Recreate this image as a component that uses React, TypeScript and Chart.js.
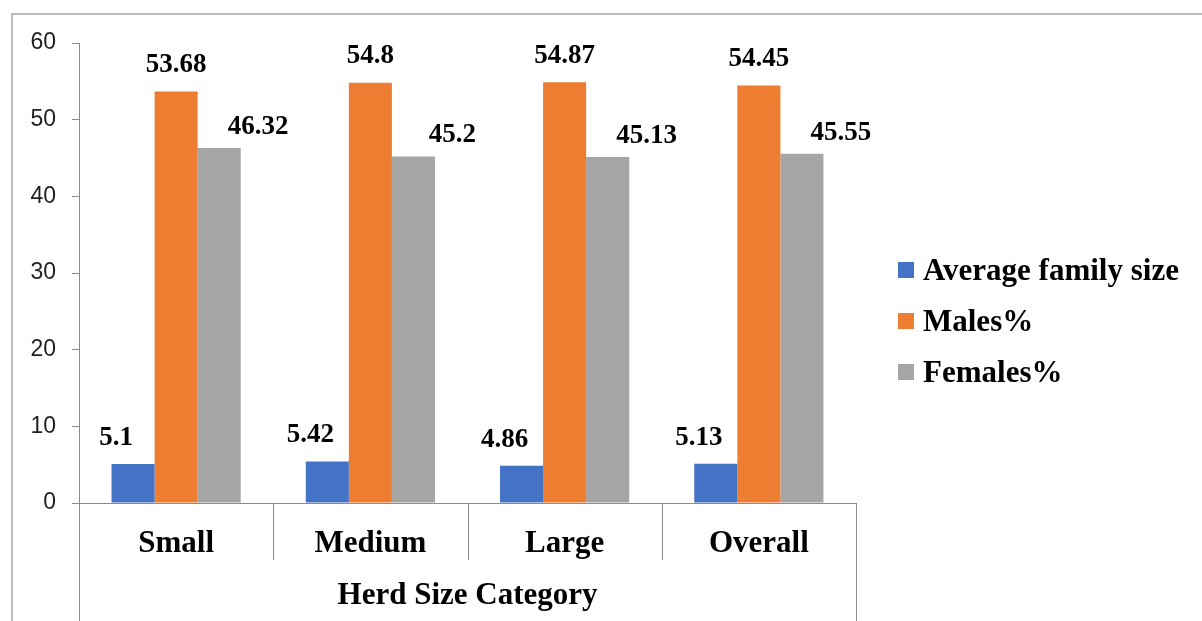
import { useEffect, useRef } from "react";
import { Chart, registerables } from "chart.js";

Chart.register(...registerables);

// Household composition by herd size category
const categories = ["Small", "Medium", "Large", "Overall"];
const avgFamilySize = [5.1, 5.42, 4.86, 5.13];
const malesPct = [53.68, 54.8, 54.87, 54.45];
const femalesPct = [46.32, 45.2, 45.13, 45.55];
const seriesNames = ["Average family size", "Males%", "Females%"];
const yMin = 0;
const yMax = 60;
const yStep = 10;
const axisTitle = "Herd Size Category";

const SERIF = "'Liberation Serif', 'Times New Roman', serif";
const SANS = "'Liberation Sans', Arial, sans-serif";
const LINE = "#8c8c8c";

// Draws the outer frame, category separators, value labels and the legend.
const decorations = {
  id: "decorations",
  afterDraw(chart: any) {
    const { ctx, chartArea, scales } = chart;
    const x = scales.x;
    ctx.save();

    // outer frame (top and left edges)
    ctx.strokeStyle = "#a6a6a6";
    ctx.lineWidth = 1.5;
    ctx.beginPath();
    ctx.moveTo(12, chart.height);
    ctx.lineTo(12, 14);
    ctx.lineTo(chart.width, 14);
    ctx.stroke();

    // separators between categories below the axis
    ctx.strokeStyle = LINE;
    ctx.lineWidth = 1;
    const n = categories.length;
    for (let i = 0; i <= n; i++) {
      let px: number;
      if (i === 0) px = x.left;
      else if (i === n) px = x.right;
      else px = (x.getPixelForTick(i - 1) + x.getPixelForTick(i)) / 2;
      const end = i === 0 || i === n ? chart.height : chartArea.bottom + 57;
      px = Math.round(px) + 0.5;
      ctx.beginPath();
      ctx.moveTo(px, chartArea.bottom);
      ctx.lineTo(px, end);
      ctx.stroke();
    }

    // value labels
    ctx.font = `bold 27px ${SERIF}`;
    ctx.fillStyle = "#000000";
    ctx.textAlign = "center";
    ctx.textBaseline = "alphabetic";
    chart.data.datasets.forEach((ds: any, di: number) => {
      const meta = chart.getDatasetMeta(di);
      meta.data.forEach((bar: any, j: number) => {
        ctx.fillText(String(ds.data[j]), bar.x + ds.labelDx, bar.y - ds.labelGap);
      });
    });

    // legend
    const boxX = 898;
    const box = 16;
    const firstRow = 270;
    const rowGap = 51;
    ctx.font = `bold 31px ${SERIF}`;
    ctx.textAlign = "left";
    chart.data.datasets.forEach((ds: any, di: number) => {
      const cy = firstRow + di * rowGap;
      ctx.fillStyle = ds.backgroundColor;
      ctx.fillRect(boxX, cy - box / 2, box, box);
      ctx.fillStyle = "#000000";
      ctx.fillText(ds.label, boxX + box + 9, cy + 10);
    });

    ctx.restore();
  },
};

export default function App() {
  const canvasRef = useRef<HTMLCanvasElement | null>(null);

  useEffect(() => {
    if (!canvasRef.current) return;
    const chart = new Chart(canvasRef.current, {
      type: "bar",
      data: {
        labels: categories,
        datasets: [
          {
            label: seriesNames[0],
            data: avgFamilySize,
            backgroundColor: "#4472C4",
            labelDx: -17,
            labelGap: 19,
          } as any,
          {
            label: seriesNames[1],
            data: malesPct,
            backgroundColor: "#ED7D31",
            labelDx: 0,
            labelGap: 19.5,
          } as any,
          {
            label: seriesNames[2],
            data: femalesPct,
            backgroundColor: "#A5A5A5",
            labelDx: 39,
            labelGap: 14,
          } as any,
        ],
      },
      options: {
        responsive: false,
        animation: false,
        events: [],
        layout: { padding: { top: 43, right: 346, bottom: 0, left: 0 } },
        datasets: {
          bar: { categoryPercentage: 0.665, barPercentage: 1.0, borderWidth: 0 },
        },
        plugins: {
          legend: { display: false },
          title: { display: false },
          tooltip: { enabled: false },
        },
        scales: {
          x: {
            grid: { display: false, drawTicks: false },
            border: { display: true, color: LINE, width: 1 },
            ticks: {
              autoSkip: false,
              maxRotation: 0,
              padding: 22,
              color: "#000000",
              font: { family: SERIF, size: 31, weight: "bold" },
            },
            title: {
              display: true,
              text: axisTitle,
              color: "#000000",
              padding: { top: 0, bottom: 6 },
              font: { family: SERIF, size: 31, weight: "bold" },
            },
            afterFit: (scale: any) => {
              scale.height = 118;
            },
          },
          y: {
            min: yMin,
            max: yMax,
            grid: {
              drawOnChartArea: false,
              drawTicks: true,
              tickLength: 7,
              color: LINE,
            },
            border: { display: true, color: LINE, width: 1 },
            ticks: {
              stepSize: yStep,
              padding: 16,
              color: "#1f1f1f",
              font: { family: SANS, size: 23 },
            },
            afterFit: (scale: any) => {
              scale.width = 79;
            },
          },
        },
      },
      plugins: [decorations],
    });
    return () => chart.destroy();
  }, []);

  return (
    <div style={{ position: "fixed", left: 0, top: 0, width: 1202, height: 621, background: "#ffffff" }}>
      <canvas ref={canvasRef} width={1202} height={621} style={{ display: "block" }} />
    </div>
  );
}
